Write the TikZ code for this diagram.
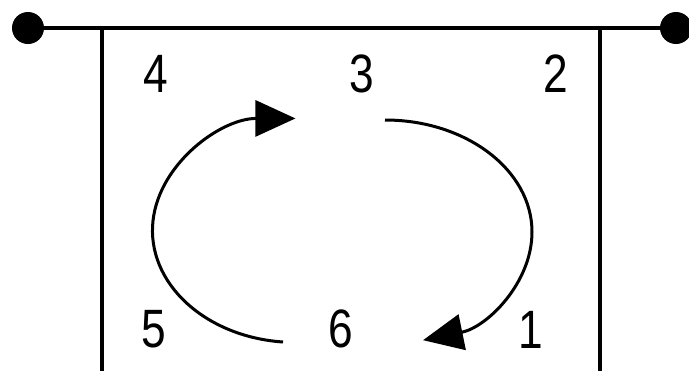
\documentclass[tikz,border=0pt]{standalone}
\usepackage{fontspec}
\setmainfont{Liberation Sans}
\newfontfamily\labfont[FakeStretch=0.82]{Liberation Sans}
\usetikzlibrary{arrows.meta}
\begin{document}
\begin{tikzpicture}[x=1pt,y=1pt,
  wire/.style={line width=3.5pt},
  loop/.style={line width=3pt,-{Triangle[length=40pt,width=36pt]}},
  dot/.style={circle,fill=black,inner sep=0pt,minimum size=32pt},
  lab/.style={inner sep=0pt,font=\labfont\fontsize{54}{54}\selectfont}]
\useasboundingbox (0,0) rectangle (689,-370);
\node[dot] (L) at (28,-28) {};
\node[dot] (R) at (676,-28) {};
\draw[wire] (L) -- (R);
\coordinate (tl) at (102,-28);
\coordinate (bl) at (102,-375);
\coordinate (tr) at (600,-28);
\coordinate (br) at (600,-375);
\draw[wire] (tl) -- (bl);
\draw[wire] (tr) -- (br);
\node[lab] (n4) at (156,-74) {4};
\node[lab] (n3) at (362,-74) {3};
\node[lab] (n2) at (556,-74) {2};
\node[lab] (n5) at (154,-329) {5};
\node[lab] (n6) at (341,-329) {6};
\node[lab] (n1) at (531,-330) {1};
\coordinate (ra) at (385,-120);
\coordinate (la) at (283,-342);
\draw[loop] (ra) arc[start angle=90,end angle=-75,x radius=147pt,y radius=112pt];
\draw[loop] (la) arc[start angle=265,end angle=90,x radius=143pt,y radius=112pt];
\end{tikzpicture}
\end{document}
